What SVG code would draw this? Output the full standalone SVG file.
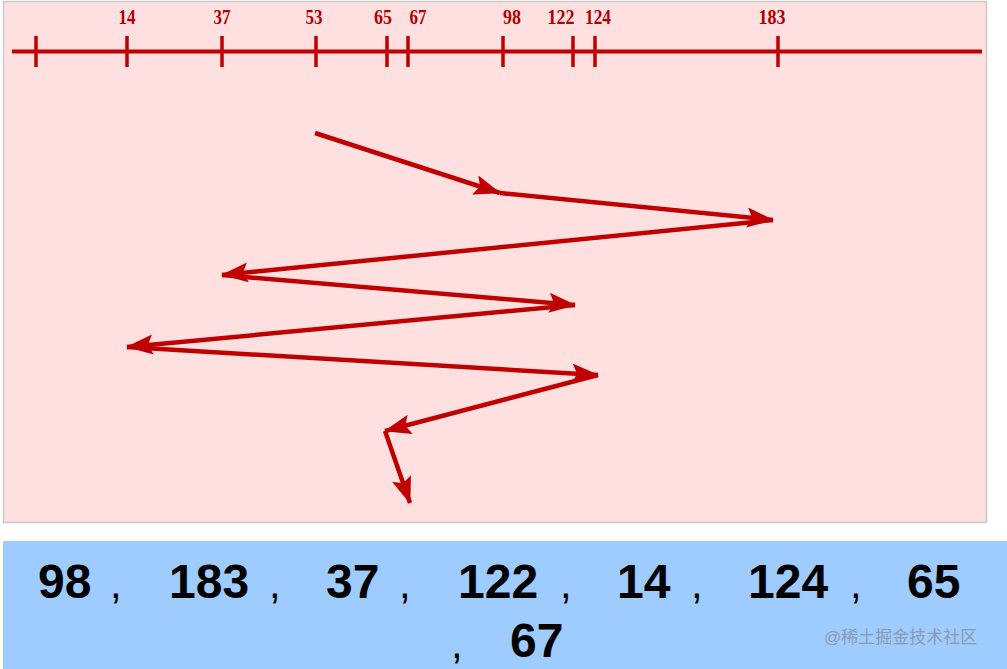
<svg xmlns="http://www.w3.org/2000/svg" width="1007" height="669" viewBox="0 0 1007 669">
<style>
.ax{stroke:#C00000;stroke-width:4;fill:none}
.tk{stroke:#C00000;stroke-width:3.5}
.lb{font-family:"Liberation Serif",serif;font-weight:bold;font-size:21px;fill:#B00000;text-anchor:middle}
.ar{stroke:#C00000;stroke-width:4.5;fill:none;marker-end:url(#ah)}
.num{font-family:"Liberation Sans",Arial,sans-serif;font-weight:bold;font-size:48px;fill:#000}
.cm{font-family:"Liberation Sans",Arial,sans-serif;font-size:42px;fill:#000}
.wm{font-family:"Liberation Sans","Noto Sans CJK SC",sans-serif;font-size:17px;fill:#8a9bb0}
</style>
<defs>
<marker id="ah" markerUnits="userSpaceOnUse" markerWidth="30" markerHeight="22" refX="26" refY="10" orient="auto">
<path d="M0,0 L27,10 L0,20 L5,10 Z" fill="#C00000"/>
</marker>
</defs>
<rect x="0" y="0" width="1007" height="669" fill="#ffffff"/>
<rect id="panel" x="3.5" y="1.5" width="983" height="521" fill="#FFE0E0" stroke="#c9c9c9" stroke-width="1.5"/>
<g id="axis">
<line class="ax" x1="12" y1="51.5" x2="982" y2="51.5"/>
<line class="tk" x1="36" y1="36" x2="36" y2="67"/>
<line class="tk" x1="127" y1="36" x2="127" y2="67"/>
<line class="tk" x1="222" y1="36" x2="222" y2="67"/>
<line class="tk" x1="316" y1="36" x2="316" y2="67"/>
<line class="tk" x1="387" y1="36" x2="387" y2="67"/>
<line class="tk" x1="408" y1="36" x2="408" y2="67"/>
<line class="tk" x1="503" y1="36" x2="503" y2="67"/>
<line class="tk" x1="573" y1="36" x2="573" y2="67"/>
<line class="tk" x1="595" y1="36" x2="595" y2="67"/>
<line class="tk" x1="778" y1="36" x2="778" y2="67"/>
<text class="lb" x="127" y="24" textLength="17" lengthAdjust="spacingAndGlyphs">14</text>
<text class="lb" x="222" y="24" textLength="17" lengthAdjust="spacingAndGlyphs">37</text>
<text class="lb" x="314" y="24" textLength="17" lengthAdjust="spacingAndGlyphs">53</text>
<text class="lb" x="383" y="24" textLength="18" lengthAdjust="spacingAndGlyphs">65</text>
<text class="lb" x="418" y="24" textLength="17" lengthAdjust="spacingAndGlyphs">67</text>
<text class="lb" x="512" y="24" textLength="18" lengthAdjust="spacingAndGlyphs">98</text>
<text class="lb" x="561" y="24" textLength="27" lengthAdjust="spacingAndGlyphs">122</text>
<text class="lb" x="598" y="24" textLength="26" lengthAdjust="spacingAndGlyphs">124</text>
<text class="lb" x="772" y="24" textLength="27" lengthAdjust="spacingAndGlyphs">183</text>
</g>
<g id="connectors">
<line class="ar" x1="315" y1="133" x2="500" y2="193"/>
<line class="ar" x1="500" y1="193" x2="773" y2="220"/>
<line class="ar" x1="773" y1="220" x2="222" y2="275"/>
<line class="ar" x1="222" y1="275" x2="575" y2="305"/>
<line class="ar" x1="575" y1="305" x2="127" y2="347"/>
<line class="ar" x1="127" y1="347" x2="598" y2="375"/>
<line class="ar" x1="598" y1="375" x2="385" y2="431"/>
<line class="ar" x1="385" y1="431" x2="410" y2="503"/>
</g>
<g id="sequence">
<rect x="3" y="541" width="1004" height="128" fill="#9ECCFF"/>
<text class="num" x="38" y="598">98</text>
<text class="cm" x="110" y="598">,</text>
<text class="num" x="169" y="598">183</text>
<text class="cm" x="269" y="598">,</text>
<text class="num" x="326" y="598">37</text>
<text class="cm" x="399" y="598">,</text>
<text class="num" x="458" y="598">122</text>
<text class="cm" x="560" y="598">,</text>
<text class="num" x="617" y="598">14</text>
<text class="cm" x="691" y="598">,</text>
<text class="num" x="748" y="598">124</text>
<text class="cm" x="850" y="598">,</text>
<text class="num" x="907" y="598">65</text>
<text class="cm" x="451" y="658">,</text>
<text class="num" x="510" y="657">67</text>
<text class="wm" x="824" y="643">@稀土掘金技术社区</text>
</g>
</svg>
